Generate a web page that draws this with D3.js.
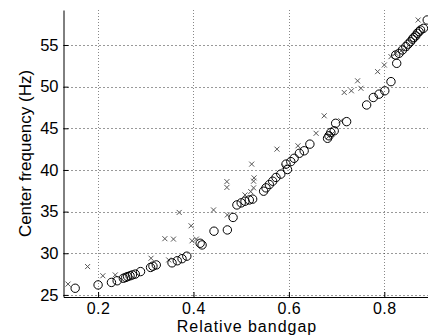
<!DOCTYPE html>
<html>
<head>
<meta charset="utf-8">
<script src="https://cdn.jsdelivr.net/npm/d3@7"></script>
<style>
  body { margin: 0; background: #fff; }
  svg text { font-family: "Liberation Sans", Arial, sans-serif; fill: #000; }
</style>
</head>
<body>
<svg id="chart" width="428" height="336"></svg>
<script>
// circles (o) : relative bandgap vs center frequency
const circleX = [0.152,0.2,0.228,0.24,0.253,0.258,0.262,0.267,0.272,0.278,0.289,0.31,0.315,0.322,
  0.355,0.366,0.376,0.386,0.414,0.418,0.443,0.471,0.483,0.491,0.5,0.508,0.517,0.524,
  0.547,0.552,0.559,0.566,0.573,0.583,0.597,0.594,0.604,0.611,0.622,0.632,0.644,
  0.681,0.684,0.688,0.695,0.698,0.721,0.763,0.777,0.789,0.801,0.814,0.826,0.824,0.831,
  0.838,0.845,0.85,0.855,0.859,0.862,0.866,0.869,0.873,0.876,0.882,0.89];
const circleY = [25.8,26.2,26.5,26.7,27.0,27.1,27.2,27.3,27.4,27.5,27.8,28.3,28.45,28.6,
  28.85,29.1,29.35,29.65,31.2,31.0,32.65,32.8,34.3,35.8,36.05,36.25,36.4,36.5,
  37.45,37.85,38.25,38.65,39.1,39.5,40.05,40.7,41.0,41.4,42.0,42.3,43.1,
  43.8,44.1,44.5,44.7,45.6,45.8,47.8,48.7,49.1,49.5,50.6,52.8,53.8,54.0,
  54.4,54.8,55.1,55.4,55.7,55.9,56.1,56.4,56.6,56.8,57.0,58.0];

// crosses (x)
const crossX = [0.137,0.178,0.21,0.236,0.311,0.348,0.34,0.358,0.37,0.395,0.397,0.406,0.442,
  0.47,0.47,0.471,0.508,0.52,0.526,0.527,0.526,0.522,0.575,0.59,0.619,0.657,0.674,0.683,0.69,
  0.709,0.716,0.731,0.744,0.751,0.786,0.8,0.814,0.824,0.835,0.845,0.871];
const crossY = [26.3,28.4,27.3,27.4,29.4,29.2,31.75,31.7,34.9,33.3,31.5,31.7,35.2,
  38.6,37.9,34.6,37.0,37.4,37.85,39.05,38.65,40.7,42.5,40.4,42.9,44.4,46.5,44.0,44.3,
  45.9,49.3,49.5,50.7,49.8,51.8,52.6,53.6,54.0,54.3,54.6,58.0];

const xTicks = [0.2, 0.4, 0.6, 0.8];
const yTicks = [25, 30, 35, 40, 45, 50, 55];

const svg = d3.select("#chart");
const pLeft = 63.5, pRight = 432, pTop = 10, pBottom = 297;

const x = d3.scaleLinear().domain([0.1275, 0.9]).range([pLeft, pRight]);
const y = d3.scaleLinear().domain([24.75, 59.2]).range([pBottom, pTop]);

// grid
const grid = svg.append("g");
grid.selectAll("line.gx").data(xTicks).enter().append("line")
  .attr("x1", d => Math.round(x(d)) + 0.5).attr("x2", d => Math.round(x(d)) + 0.5)
  .attr("y1", pTop).attr("y2", pBottom)
  .attr("stroke", "#888").attr("stroke-dasharray", "1,2");
grid.selectAll("line.gy").data(yTicks).enter().append("line")
  .attr("y1", d => Math.round(y(d)) + 0.5).attr("y2", d => Math.round(y(d)) + 0.5)
  .attr("x1", pLeft).attr("x2", 428)
  .attr("stroke", "#333").attr("stroke-dasharray", "1,3");

// axes (inward ticks, matlab style)
const xAxis = d3.axisBottom(x).tickValues(xTicks).tickSizeInner(-5).tickSizeOuter(0)
  .tickPadding(8).tickFormat(d3.format(".1f"));
const yAxis = d3.axisLeft(y).tickValues(yTicks).tickSizeInner(-5).tickSizeOuter(0)
  .tickPadding(5);

const gx = svg.append("g").attr("transform", `translate(0,${pBottom})`).call(xAxis);
const gy = svg.append("g").attr("transform", `translate(${pLeft},0)`).call(yAxis);
[gx, gy].forEach(g => {
  g.selectAll("text").style("font-size", "16.5px").attr("font-family", null);
  g.attr("font-family", null);
  g.select(".domain").attr("stroke", "#000");
  g.selectAll(".tick line").attr("stroke", "#000");
});
gx.selectAll("text").attr("dy", null).attr("y", 17).style("font-size", "16px")
  .style("letter-spacing", "0.5px");

// points
const circles = circleX.map((v, i) => ({x: v, y: circleY[i]}));
const crosses = crossX.map((v, i) => ({x: v, y: crossY[i]}));

svg.append("g").selectAll("path").data(crosses).enter().append("path")
  .attr("d", d => {
    const cx = x(d.x), cy = y(d.y), s = 2.5;
    return `M${cx - s},${cy - s}L${cx + s},${cy + s}M${cx - s},${cy + s}L${cx + s},${cy - s}`;
  })
  .attr("stroke", "#555").attr("stroke-width", 1).attr("fill", "none");

svg.append("g").selectAll("circle").data(circles).enter().append("circle")
  .attr("cx", d => x(d.x)).attr("cy", d => y(d.y)).attr("r", 4.2)
  .attr("fill", "none").attr("stroke", "#000").attr("stroke-width", 1);

// labels
svg.append("text").attr("x", 247).attr("y", 332).attr("text-anchor", "middle")
  .style("font-size", "16px").style("letter-spacing", "1px").text("Relative bandgap");
svg.append("text").attr("transform", `translate(31,${(pTop + pBottom) / 2}) rotate(-90)`)
  .attr("text-anchor", "middle").style("font-size", "17px").text("Center frequency (Hz)");
</script>
</body>
</html>
